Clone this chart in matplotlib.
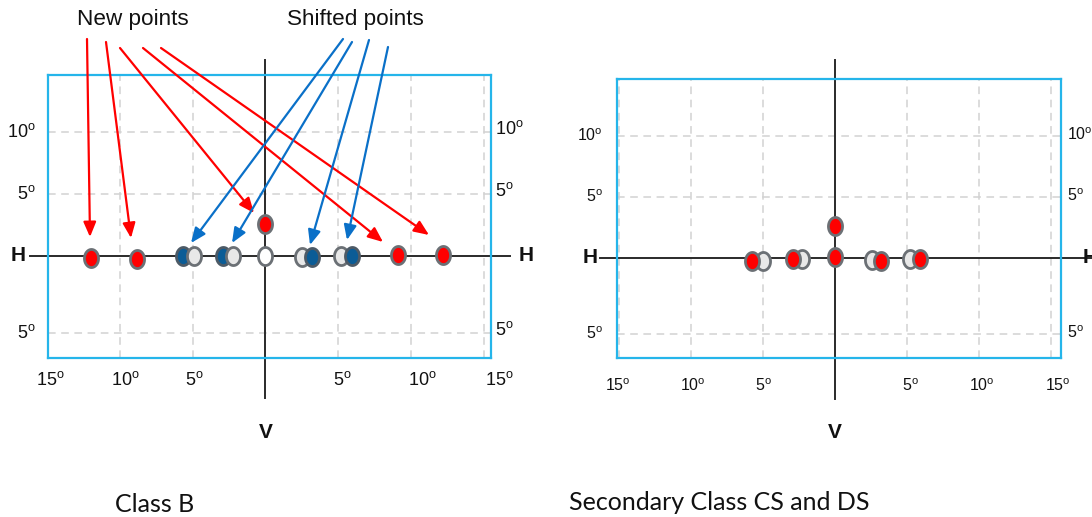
import numpy as np
import matplotlib
matplotlib.use("Agg")
import matplotlib.pyplot as plt
from matplotlib.path import Path

plt.rcParams['lines.scale_dashes'] = False
NARROW = ['Liberation Sans Narrow', 'Liberation Sans', 'DejaVu Sans']

# ---------------- data (degrees) ----------------
tick_vals_x = [-15, -10, -5, 5, 10, 15]
tick_text_x = ['15', '10', '5', '5', '10', '15']
grid_y = [10, 5, -6.2]
tick_text_y = ['10', '5', '5']

# Class B panel
b_red_x = [-12.0, -8.8, 9.1, 12.2, 0.0]
b_red_y = [-0.2, -0.25, 0.1, 0.05, 2.6]
b_blue_x = [-5.67, -2.92, 3.2, 5.95]
b_blue_y = [0.0, 0.0, -0.1, 0.0]
b_grey_x = [-4.9, -2.23, 2.5, 5.2]
b_grey_y = [0.0, 0.0, -0.1, 0.0]
b_white_x = [0.0]
b_white_y = [0.0]

# Secondary class panel
s_red_x = [-5.76, -2.92, 0.0, 3.19, 5.9, 0.0]
s_red_y = [-0.25, -0.1, 0.1, -0.25, -0.08, 2.6]
s_grey_x = [-5.0, -2.29, 2.57, 5.2]
s_grey_y = [-0.25, -0.1, -0.2, -0.08]

W, H = 1092, 517
fig = plt.figure(figsize=(W / 100, H / 100), dpi=100)


def px_axes(x0, y0, x1, y1):
    return fig.add_axes([x0 / W, 1 - y1 / H, (x1 - x0) / W, (y1 - y0) / H])


t = np.linspace(0, 2 * np.pi, 80)
ell = Path(np.column_stack([0.78 * np.cos(t), np.sin(t)]), closed=True)
EDGE = '#6b7075'
STY = {
    'red': dict(mfc='#ff0000', mec=EDGE),
    'blue': dict(mfc='#0b5c96', mec='#4d5a66'),
    'grey': dict(mfc='#e8e8e8', mec=EDGE),
    'white': dict(mfc='#ffffff', mec=EDGE),
}


def draw_point(ax, x, y, kind, z):
    ax.plot([x], [y], marker=ell, ms=13, mew=2.0, ls='none', zorder=z,
            clip_on=False, **STY[kind])


def deg(s):
    return r'$\mathregular{%s^o}$' % s


def setup(ax, xlim, ylim, hspan, vspan, tsize, off_l, off_r, dy_r):
    ax.set_xlim(*xlim)
    ax.set_ylim(*ylim)
    for s in ax.spines.values():
        s.set_color('#25b5ea')
        s.set_linewidth(1.6)
        s.set_zorder(6)
    for gx in tick_vals_x:
        ax.axvline(gx, color='#d2d2d2', lw=1.1, dashes=(5.5, 4), zorder=1)
    for gy in grid_y:
        ax.axhline(gy, color='#d2d2d2', lw=1.1, dashes=(5.5, 4), zorder=1)
    ax.set_xticks([])
    ax.set_yticks([])
    for gy, s in zip(grid_y, tick_text_y):
        ax.annotate(deg(s), xy=(0, gy), xycoords=('axes fraction', 'data'),
                    xytext=(off_l, 0), textcoords='offset pixels',
                    ha='right', va='center', family=NARROW, fontsize=tsize,
                    color='#111111', annotation_clip=False)
        ax.annotate(deg(s), xy=(1, gy), xycoords=('axes fraction', 'data'),
                    xytext=(off_r, dy_r), textcoords='offset pixels',
                    ha='left', va='center', family=NARROW, fontsize=tsize,
                    color='#111111', annotation_clip=False)
    # H and V axes lines
    ax.plot(hspan, [0, 0], color='#2a2a2a', lw=1.4, zorder=2, clip_on=False)
    ax.plot([0, 0], vspan, color='#2a2a2a', lw=1.4, zorder=2, clip_on=False)


# ---------------- Class B ----------------
ax1 = px_axes(48, 75, 491, 358)
setup(ax1, (-14.95, 15.5), (-8.23, 14.6), (-16.2, 16.8), (-11.45, 15.8), 13, -12, 4, 3)
pts = ([(x, y, 'red') for x, y in zip(b_red_x, b_red_y)]
       + [(x, y, 'blue') for x, y in zip(b_blue_x, b_blue_y)]
       + [(x, y, 'grey') for x, y in zip(b_grey_x, b_grey_y)]
       + [(x, y, 'white') for x, y in zip(b_white_x, b_white_y)])
for i, (x, y, k) in enumerate(sorted(pts, key=lambda p: p[0])):
    draw_point(ax1, x, y, k, 3 + i * 0.01)

left_lab_pos = [-14.8, -9.65, -4.9, 5.3, 10.8, 16.1]
for p, s in zip(left_lab_pos, tick_text_x):
    ax1.text(p, -10.0, deg(s), family=NARROW, fontsize=13,
             ha='center', va='center', color='#111111', clip_on=False)
ax1.text(-17.0, 0, 'H', family=NARROW, fontsize=15, fontweight='bold',
         ha='center', va='center', color='#111111')
ax1.text(17.9, 0, 'H', family=NARROW, fontsize=15, fontweight='bold',
         ha='center', va='center', color='#111111')
ax1.text(0, -14.2, 'V', family=NARROW, fontsize=15, fontweight='bold',
         ha='center', va='center', color='#111111')

# ---------------- Secondary Class ----------------
ax2 = px_axes(617, 79, 1061, 358)
setup(ax2, (-15.14, 15.69), (-8.2, 14.67), (-16.3, 17.9), (-11.6, 16.2), 11.5, -14, 6, 1)
for x, y in zip(s_grey_x, s_grey_y):
    draw_point(ax2, x, y, 'grey', 3)
for x, y in zip(s_red_x, s_red_y):
    draw_point(ax2, x, y, 'red', 4)
right_lab_pos = [-15.07, -9.86, -5.0, 5.2, 10.2, 15.5]
for p, s in zip(right_lab_pos, tick_text_x):
    ax2.text(p, -10.5, deg(s), family=NARROW, fontsize=11.5,
             ha='center', va='center', color='#111111', clip_on=False)
ax2.text(-17.0, 0, 'H', family=NARROW, fontsize=15, fontweight='bold',
         ha='center', va='center', color='#111111')
ax2.text(17.2, 0, 'H', family=NARROW, fontsize=15, fontweight='bold',
         ha='left', va='center', color='#111111')
ax2.text(0, -14.3, 'V', family=NARROW, fontsize=15, fontweight='bold',
         ha='center', va='center', color='#111111')

# ---------------- annotations ----------------
def arrow(start, tip, color):
    ax1.annotate('', xy=(tip[0], H - tip[1]), xycoords='figure pixels',
                 xytext=(start[0], H - start[1]), textcoords='figure pixels',
                 arrowprops=dict(arrowstyle='-|>,head_length=0.9,head_width=0.38',
                                 mutation_scale=10, lw=1.6, color=color,
                                 shrinkA=0, shrinkB=0),
                 annotation_clip=False, zorder=10)


red_starts = [(87, 39), (106, 42), (120, 48), (143, 48), (161, 48)]
red_tips = [(90, 237), (131, 238), (254, 213), (383, 242), (429, 235)]
blue_starts = [(343, 39), (352, 42), (369, 40), (388, 47)]
blue_tips = [(191, 243), (232, 243), (310, 245), (347, 240)]
for s, tp in zip(red_starts, red_tips):
    arrow(s, tp, '#ff0000')
for s, tp in zip(blue_starts, blue_tips):
    arrow(s, tp, '#0a70c8')

fig.text(133 / W, 1 - 20 / H, 'New points', family='Liberation Sans', fontsize=16.2,
         ha='center', va='center', color='#111111')
fig.text(355 / W, 1 - 20 / H, 'Shifted points', family='Liberation Sans', fontsize=16.2,
         ha='center', va='center', color='#111111')
fig.text(155 / W, 1 - 504 / H, 'Class B', family='Lato', fontsize=18,
         ha='center', va='center', color='#111111')
fig.text(719 / W, 1 - 503 / H, 'Secondary Class CS and DS', family='Lato', fontsize=18,
         ha='center', va='center', color='#111111')

fig.savefig('out.png', dpi=100, facecolor='white')
